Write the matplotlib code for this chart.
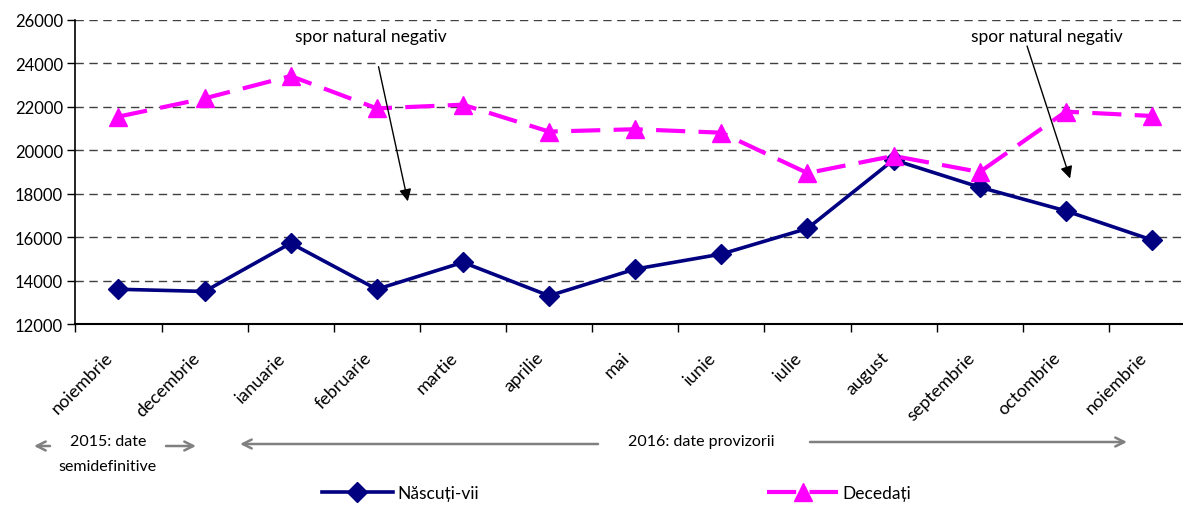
import matplotlib.pyplot as plt
from matplotlib.lines import Line2D
import numpy as np

plt.rcParams['font.family'] = ['Lato', 'DejaVu Sans']

# months (Nov 2015 - Nov 2016)
months = ['noiembrie', 'decembrie', 'ianuarie', 'februarie', 'martie', 'aprilie', 'mai',
          'iunie', 'iulie', 'august', 'septembrie', 'octombrie', 'noiembrie']
nascuti = [13600, 13500, 15720, 13600, 14840, 13300, 14530,
           15220, 16400, 19560, 18300, 17210, 15870]
decedati = [21550, 22390, 23420, 21930, 22100, 20860, 20970,
            20810, 18950, 19740, 19000, 21780, 21580]
y_ticks = list(range(12000, 26001, 2000))

W, H = 1183, 506
fig = plt.figure(figsize=(W / 100, H / 100), dpi=100)
# plot area runs a bit past the right edge, like the original (cropped) chart
ax = fig.add_axes([75.4 / W, 181 / H, (1195 - 75.4) / W, 304 / H])

x = np.arange(len(months))
ax.plot(x, nascuti, color='#000080', lw=2.6, marker='D', ms=10.5, zorder=3)
ax.plot(x, decedati, color='#FF00FF', lw=3, marker='^', ms=13,
        dashes=(7, 3.2), zorder=3)

ax.set_xlim(-0.5, len(months) - 0.5)
ax.set_ylim(12000, 26000)
ax.set_yticks(y_ticks)
ax.tick_params(axis='y', labelsize=12, length=6, width=1, pad=3)
ax.set_xticks(np.arange(-0.5, len(months), 1.0))
ax.set_xticklabels([])
ax.tick_params(axis='x', which='major', length=6, width=1)
# labels sit a little left of the category centre
ax.set_xticks(x - 0.09, minor=True)
ax.set_xticklabels(months, minor=True, rotation=45, ha='right', va='center',
                   rotation_mode='anchor', fontsize=13)
ax.tick_params(axis='x', which='minor', length=0, pad=22)

ax.grid(axis='y', color='#404040', lw=1, dashes=(6, 4))
for s in ['top', 'right']:
    ax.spines[s].set_visible(False)
ax.spines['left'].set_linewidth(1.2)
ax.spines['bottom'].set_linewidth(1.5)

# "spor natural negativ" notes
arrow_kw = dict(arrowstyle='-|>', color='black', lw=1, mutation_scale=18,
                shrinkA=0, shrinkB=0)
ax.annotate('', xy=(3.36, 17650), xytext=(3.02, 23850), arrowprops=arrow_kw)
ax.text(2.93, 25250, 'spor natural negativ', fontsize=12.5, ha='center', va='center')
ax.annotate('', xy=(11.05, 18700), xytext=(10.55, 24800), arrowprops=arrow_kw)
ax.text(10.78, 25250, 'spor natural negativ', fontsize=12.5, ha='center', va='center')

# period notes below the axis (figure pixel coords)
def fx(px):
    return px / W

def fy(py):
    return 1 - py / H

gray = '#808080'
fig.text(fx(108), fy(442), '2015: date', fontsize=11.5, ha='center', va='center')
fig.text(fx(107), fy(467), 'semidefinitive', fontsize=11.5, ha='center', va='center')
fig.text(fx(701), fy(442), '2016: date provizorii', fontsize=11.5, ha='center', va='center')
arrows = [((50, 447), (34, 447)), ((166, 447), (196, 447)),
          ((598, 445), (240, 445)), ((810, 443), (1127, 443))]
for (x0, y0), (x1, y1) in arrows:
    fig.add_artist(plt.Annotation('', xy=(fx(x1), fy(y1)), xytext=(fx(x0), fy(y0)),
                                  xycoords='figure fraction', textcoords='figure fraction',
                                  arrowprops=dict(arrowstyle='->', color=gray, lw=1.8,
                                                  mutation_scale=16, shrinkA=0, shrinkB=0)))

handles = [Line2D([], [], color='#000080', lw=2.6, marker='D', ms=10.5),
           Line2D([], [], color='#FF00FF', lw=3, marker='^', ms=13, dashes=(7, 3.2))]
fig.legend(handles, ['Născuți-vii', 'Decedați'], ncol=2, frameon=False, fontsize=12.5,
           loc='center left', bbox_to_anchor=(fx(306), fy(494)), handlelength=4.1,
           handletextpad=0.25, columnspacing=16.6)

fig.savefig('out.png', dpi=100)
